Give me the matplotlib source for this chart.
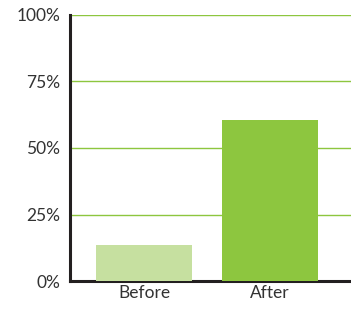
import matplotlib
matplotlib.use('Agg')
import matplotlib.pyplot as plt
from matplotlib.ticker import FuncFormatter

# data
categories = ["Before", "After"]
values = [13.5, 60.5]
bar_colors = ["#c6e0a0", "#8dc63f"]
yticks = [0, 25, 50, 75, 100]

plt.rcParams['font.family'] = ['Lato', 'DejaVu Sans']

fig = plt.figure(figsize=(3.51, 3.09), dpi=100)
ax = fig.add_axes([0.1994, 0.0906, 0.8006, 0.8609])

x = range(len(categories))
ax.bar(x, values, width=0.762, color=bar_colors, zorder=3)

ax.set_xlim(-0.587, 1.643)
ax.set_ylim(0, 100)
ax.set_yticks(yticks)
ax.yaxis.set_major_formatter(FuncFormatter(lambda v, p: f"{int(v)}%"))
ax.set_xticks(list(x))
ax.set_xticklabels(categories)

ax.grid(axis='y', color="#8dc63f", linewidth=1, zorder=0)
ax.set_axisbelow(True)

for s in ['top', 'right']:
    ax.spines[s].set_visible(False)
for s in ['left', 'bottom']:
    ax.spines[s].set_color("#231f20")
    ax.spines[s].set_linewidth(2.2)

ax.tick_params(axis='both', length=0, labelsize=12.5, colors="#333333")
ax.tick_params(axis='y', pad=7)
ax.tick_params(axis='x', pad=3)

plt.savefig("out.png", dpi=100)
